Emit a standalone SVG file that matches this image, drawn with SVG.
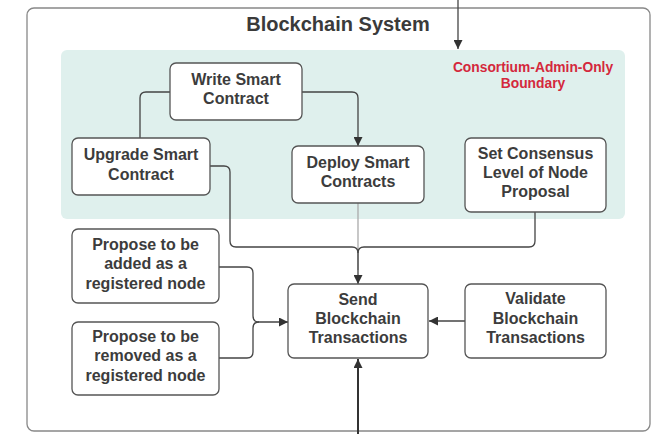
<svg xmlns="http://www.w3.org/2000/svg" width="670" height="434" viewBox="0 0 670 434">
<defs>
<style>
.box{fill:#fff;stroke:#555;stroke-width:1.3}
.t{font-family:"Liberation Sans",Arial,sans-serif;font-weight:bold;font-size:16px;fill:#3c3c3c;text-anchor:middle}
.c{fill:none;stroke:#444;stroke-width:1.3}
</style>
<marker id="ah" viewBox="0 0 10 10" refX="10" refY="5" markerWidth="10" markerHeight="9" markerUnits="userSpaceOnUse" orient="auto">
<path d="M0,0 L10,5 L0,10 Z" fill="#333"/>
</marker>
</defs>
<rect width="670" height="434" fill="#fff"/>
<g id="system">
<rect x="27" y="8" width="623" height="423" rx="7" fill="#fff" stroke="#888" stroke-width="1.3"/>
<text x="338" y="31" font-family="Liberation Sans,Arial,sans-serif" font-weight="bold" font-size="20" fill="#3a3a3a" text-anchor="middle">Blockchain System</text>
</g>
<g id="boundary">
<rect x="61" y="50" width="564" height="169" rx="6" fill="#dff0ed"/>
<text font-family="Liberation Sans,Arial,sans-serif" font-weight="bold" font-size="13.8" fill="#d4283c" text-anchor="middle"><tspan x="533" y="72">Consortium-Admin-Only</tspan><tspan x="533" y="88">Boundary</tspan></text>
</g>
<g id="connectors">
<path class="c" d="M458,0 V49" marker-end="url(#ah)"/>
<path class="c" d="M170,92 H146 Q140,92 140,98 V138"/>
<path class="c" d="M302,92 H352 Q358,92 358,98 V146" marker-end="url(#ah)"/>
<path d="M358,203 V270" fill="none" stroke="#aaa" stroke-width="1.3"/>
<path class="c" d="M210,166 H224 Q230,166 230,172 V241 Q230,247 236,247 H352 Q358,247 358,253 V284" marker-end="url(#ah)"/>
<path class="c" d="M535,212 V241 Q535,247 529,247 H364 Q358,247 358,253"/>
<path class="c" d="M465,321 H429" marker-end="url(#ah)"/>
<path d="M358,434 V359" fill="none" stroke="#333" stroke-width="2" marker-end="url(#ah)"/>
<path class="c" d="M219,267 H247 Q253,267 253,273 V316 Q253,322 259,322 H288" marker-end="url(#ah)"/>
<path class="c" d="M219,358 H247 Q253,358 253,352 V328 Q253,322 259,322"/>
</g>
<g id="write">
<rect class="box" x="170" y="63" width="132" height="57" rx="6"/>
<text class="t"><tspan x="236" y="85">Write Smart</tspan><tspan x="236" y="104">Contract</tspan></text>
</g>
<g id="upgrade">
<rect class="box" x="72" y="138" width="138" height="57" rx="6"/>
<text class="t"><tspan x="141" y="160">Upgrade Smart</tspan><tspan x="141" y="180">Contract</tspan></text>
</g>
<g id="deploy">
<rect class="box" x="292" y="146" width="132" height="57" rx="6"/>
<text class="t"><tspan x="358" y="168">Deploy Smart</tspan><tspan x="358" y="187">Contracts</tspan></text>
</g>
<g id="consensus">
<rect class="box" x="465" y="138" width="141" height="74" rx="6"/>
<text class="t"><tspan x="535.5" y="159">Set Consensus</tspan><tspan x="535.5" y="178">Level of Node</tspan><tspan x="535.5" y="197">Proposal</tspan></text>
</g>
<g id="added">
<rect class="box" x="72" y="229" width="147" height="74" rx="6"/>
<text class="t"><tspan x="145.5" y="250">Propose to be</tspan><tspan x="145.5" y="269">added as a</tspan><tspan x="145.5" y="289">registered node</tspan></text>
</g>
<g id="removed">
<rect class="box" x="72" y="322" width="147" height="73" rx="6"/>
<text class="t"><tspan x="145.5" y="342">Propose to be</tspan><tspan x="145.5" y="361">removed as a</tspan><tspan x="145.5" y="381">registered node</tspan></text>
</g>
<g id="send">
<rect class="box" x="288" y="284" width="140" height="74" rx="6"/>
<text class="t"><tspan x="358" y="305">Send</tspan><tspan x="358" y="324">Blockchain</tspan><tspan x="358" y="343">Transactions</tspan></text>
</g>
<g id="validate">
<rect class="box" x="465" y="284" width="141" height="74" rx="6"/>
<text class="t"><tspan x="535.5" y="304">Validate</tspan><tspan x="535.5" y="324">Blockchain</tspan><tspan x="535.5" y="343">Transactions</tspan></text>
</g>
</svg>
